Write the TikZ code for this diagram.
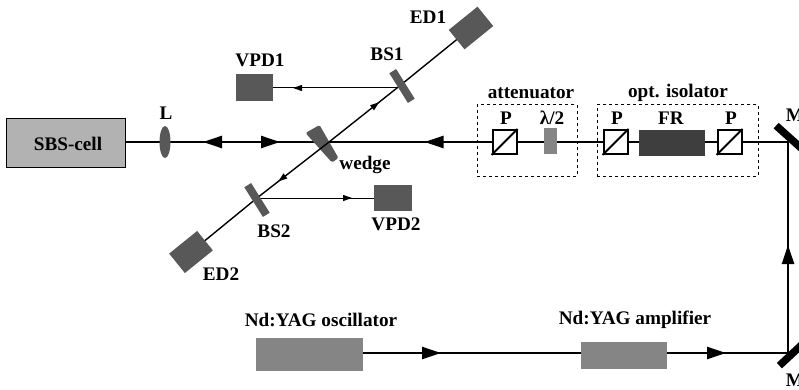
\documentclass[tikz,border=0pt]{standalone}
\usepackage{fontspec}
\setmainfont{Liberation Serif}
\usetikzlibrary{arrows.meta,decorations.markings,backgrounds,shapes.geometric}
\definecolor{partdark}{RGB}{88,88,88}
\definecolor{partmid}{RGB}{133,133,133}
\definecolor{partfr}{RGB}{62,62,62}
\definecolor{cellgray}{RGB}{178,178,178}

\tikzset{
  lbl/.style={font=\fontsize{19.2}{21}\selectfont\bfseries, inner sep=0pt},
  part/.style={rectangle, inner sep=0pt, draw=none, fill=#1},
  cube/.style={rectangle, draw=black, line width=2pt, fill=white, inner sep=0pt,
               minimum width=24pt, minimum height=24pt},
  mirror/.style={rectangle, fill=black, inner sep=0pt, minimum width=40pt, minimum height=7.5pt},
  beam/.style={line width=2.4pt},
  thinbeam/.style={line width=1.4pt},
  sidebeam/.style={line width=1pt},
  tipat/.style={postaction={decorate, decoration={markings,
    mark=at position #1 with {\arrow{Stealth[length=19pt,width=12pt,inset=0pt]}}}}},
  tiprev/.style={postaction={decorate, decoration={markings,
    mark=at position #1 with {\arrowreversed{Stealth[length=19pt,width=12pt,inset=0pt]}}}}},
  smalltip/.style={postaction={decorate, decoration={markings,
    mark=at position #1 with {\arrow{Stealth[length=9pt,width=6pt,inset=0pt]}}}}},
  smallrev/.style={postaction={decorate, decoration={markings,
    mark=at position #1 with {\arrowreversed{Stealth[length=9pt,width=6pt,inset=0pt]}}}}},
  boxframe/.style={draw, dashed, line width=1pt, inner sep=0pt}
}

\begin{document}
\begin{tikzpicture}[x=1pt, y=-1pt]
  \useasboundingbox (0,0) rectangle (799,390);

  % main table parts
  \node[part=cellgray, draw=black, line width=1pt, minimum width=119pt, minimum height=48pt] (sbs) at (66,143) {};
  \node[lbl] (sbstxt) at (68,144) {SBS-cell};
  \node[ellipse, fill=partdark, inner sep=0pt, minimum width=11pt, minimum height=32pt] (lens) at (165,142) {};
  \coordinate (hit) at (329,142);

  \node[part=partdark, minimum width=37pt, minimum height=25pt, rotate=39] (ed1) at (471,28) {};
  \node[part=partdark, minimum width=36pt, minimum height=25pt, rotate=39] (ed2) at (191,252) {};
  \node[part=partdark, minimum width=35pt, minimum height=8pt, rotate=-58] (bs1) at (402,86) {};
  \node[part=partdark, minimum width=35pt, minimum height=8pt, rotate=-58] (bs2) at (257,200) {};
  \node[part=partdark, minimum width=37pt, minimum height=27pt] (vpd1) at (254.5,87.5) {};
  \node[part=partdark, minimum width=38pt, minimum height=26pt] (vpd2) at (393,198) {};
  \coordinate (bs1hit) at (397,88);
  \coordinate (bs2hit) at (257,198);

  \node[cube] (p1) at (504.5,142) {};
  \node[part=partmid, minimum width=13pt, minimum height=26pt] (lam) at (550.5,141) {};
  \node[cube] (p2) at (615.5,142) {};
  \node[part=partfr, minimum width=66pt, minimum height=26pt] (fr) at (672,143) {};
  \node[cube] (p3) at (729.5,142) {};
  \foreach \c in {p1,p2,p3}
    \draw[line width=2pt] (\c.south west) -- (\c.north east);

  \node[boxframe, minimum width=100pt, minimum height=71pt] (attbox) at (527,140.5) {};
  \node[boxframe, minimum width=161pt, minimum height=71pt] (isobox) at (677.5,140.5) {};

  \node[mirror, rotate=-42] (mtop) at (791,139) {};
  \node[mirror, rotate=43] (mbot) at (794,352) {};
  \coordinate (mhit1) at (788,142);
  \coordinate (mhit2) at (788,353);
  \node[part=partmid, minimum width=107pt, minimum height=33pt] (osc) at (309.5,354.5) {};
  \node[part=partmid, minimum width=86pt, minimum height=27pt] (amp) at (624,355.5) {};
  \coordinate (oscout) at (363,353);
  \coordinate (ampin) at (581,353);
  \coordinate (ampout) at (667,353);

  % beams go behind the parts
  \begin{pgfonlayer}{background}
    \draw[beam] (mhit1) -- (p3.center);
    \foreach \a/\b in {p3/fr,fr/p2,p2/lam,lam/p1}
      \draw[beam] (\a.center |- mhit1) -- (\b.center |- mhit1);
    \draw[beam, tipat={80pt}] (p1.center |- mhit1) -- (hit);
    \draw[beam, tiprev={49pt}, tipat={126pt}] (hit) -- (lens.center);
    \draw[beam] (lens.center) -- (sbs.center |- mhit1);
    % wedge sits on the horizontal beam, under the diagonal one
    \fill[partdark, rounded corners=1.5pt] (305.5,133) -- (319.5,125) -- (338.5,158) -- (332,162.5) -- cycle;
    \draw[thinbeam] (ed2.center) -- (bs2hit);
    \draw[thinbeam, smallrev={27pt}] (bs2hit) -- (hit);
    \draw[thinbeam, smalltip={64pt}] (hit) -- (bs1hit);
    \draw[thinbeam] (bs1hit) -- (ed1.center);
    \draw[sidebeam, smalltip={104pt}] (bs1hit) -- (vpd1.center |- bs1hit);
    \draw[sidebeam, smalltip={95pt}] (bs2hit) -- (vpd2.center |- bs2hit);
    \draw[beam, tipat={78pt}] (oscout) -- (ampin);
    \draw[beam, tipat={59pt}] (ampout) -- (mhit2);
    \draw[beam, tipat={108pt}] (mhit2) -- (mhit1);
  \end{pgfonlayer}

  \node[lbl] (ed1txt) at (428,17) {ED1};
  \node[lbl] (bs1txt) at (387,54) {BS1};
  \node[lbl] (vpd1txt) at (260,60) {VPD1};
  \node[lbl] (ltxt) at (166,113) {L};
  \node[lbl] (wedgetxt) at (365,165) {wedge};
  \node[lbl] (bs2txt) at (274,231) {BS2};
  \node[lbl] (vpd2txt) at (396,224) {VPD2};
  \node[lbl] (ed2txt) at (221,274) {ED2};
  \node[lbl] (atttxt) at (531,93) {attenuator};
  \node[lbl] (isotxt) at (678,93) {opt. isolator};
  \node[lbl] (ptxt1) at (506,118) {P};
  \node[lbl] (lamtxt) at (552,118) {λ/2};
  \node[lbl] (ptxt2) at (617,118) {P};
  \node[lbl] (frtxt) at (671,118) {FR};
  \node[lbl] (ptxt3) at (731,118) {P};
  \node[lbl] (m1txt) at (795,115) {M};
  \node[lbl] (m2txt) at (795,380) {M};
  \node[lbl] (osctxt) at (321,320) {Nd:YAG oscillator};
  \node[lbl] (amptxt) at (635,320) {Nd:YAG amplifier};
\end{tikzpicture}
\end{document}
